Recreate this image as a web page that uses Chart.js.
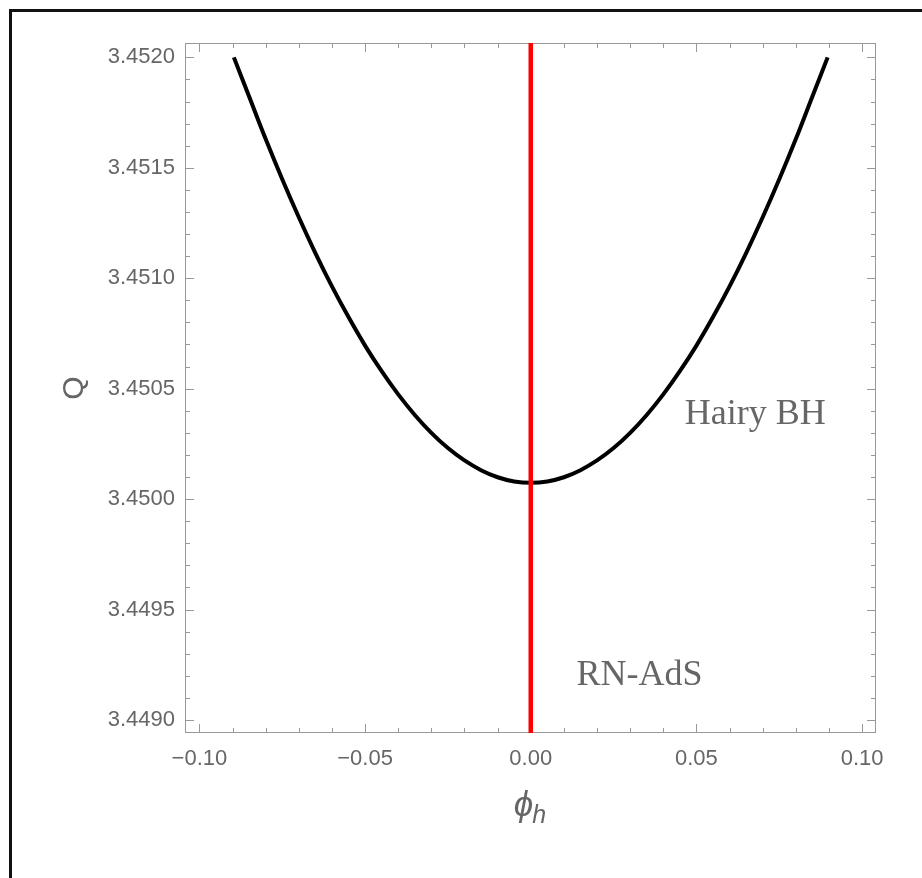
<!DOCTYPE html>
<html>
<head>
<meta charset="utf-8">
<script src="https://cdn.jsdelivr.net/npm/chart.js@4.4.4/dist/chart.umd.min.js"></script>
<style>
  html, body { margin: 0; padding: 0; background: #fff; overflow: hidden; }
  #wrap { position: relative; width: 922px; height: 878px; }
  #frame { position: absolute; left: 9px; top: 9px; width: 1000px; height: 1000px; border: 3px solid #111; pointer-events: none; }
</style>
</head>
<body>
<div id="wrap">
  <canvas id="chart" width="922" height="878"></canvas>
  <div id="frame"></div>
</div>
<script>
// hairy black hole branch
const phiH = [-0.0896, -0.085, -0.080, -0.075, -0.070, -0.065, -0.060, -0.055, -0.050, -0.045,
              -0.040, -0.035, -0.030, -0.025, -0.020, -0.015, -0.010, -0.005, 0.000,
              0.005, 0.010, 0.015, 0.020, 0.025, 0.030, 0.035, 0.040, 0.045,
              0.050, 0.055, 0.060, 0.065, 0.070, 0.075, 0.080, 0.085, 0.0896];
const hairyQ = [3.452000, 3.451823, 3.451630, 3.451448, 3.451276, 3.451114, 3.450963, 3.450824, 3.450695, 3.450579,
                3.450474, 3.450381, 3.450300, 3.450231, 3.450175, 3.450131, 3.450099, 3.450080, 3.450074,
                3.450080, 3.450099, 3.450131, 3.450175, 3.450231, 3.450300, 3.450381, 3.450474, 3.450579,
                3.450695, 3.450824, 3.450963, 3.451114, 3.451276, 3.451448, 3.451630, 3.451823, 3.452000];

// RN-AdS branch sits at phi_h = 0
const rnPhi = [0, 0];
const rnQ = [3.4485, 3.4525];

const xMajorTicks = [-0.10, -0.05, 0.00, 0.05, 0.10];
const xMinorTicks = [-0.10, -0.09, -0.08, -0.07, -0.06, -0.05, -0.04, -0.03, -0.02, -0.01, 0.00,
                     0.01, 0.02, 0.03, 0.04, 0.05, 0.06, 0.07, 0.08, 0.09, 0.10];
const yMajorTicks = [3.4490, 3.4495, 3.4500, 3.4505, 3.4510, 3.4515, 3.4520];
const yMinorTicks = [3.4490, 3.4491, 3.4492, 3.4493, 3.4494, 3.4495, 3.4496, 3.4497, 3.4498, 3.4499,
                     3.4500, 3.4501, 3.4502, 3.4503, 3.4504, 3.4505, 3.4506, 3.4507, 3.4508, 3.4509,
                     3.4510, 3.4511, 3.4512, 3.4513, 3.4514, 3.4515, 3.4516, 3.4517, 3.4518, 3.4519, 3.4520];

const branchLabels = ['Hairy BH', 'RN-AdS'];
const branchLabelPhi = [0.0465, 0.0138];
const branchLabelQ = [3.45034, 3.44916];

const GRAY_TEXT = '#666666';
const GRAY_FRAME = '#999999';

function fmtX(v) {
  const s = Math.abs(v).toFixed(2);
  return v < -1e-9 ? '\u2212' + s : s;
}

const framePlugin = {
  id: 'mmaFrame',
  beforeDatasetsDraw(chart) {
    const { ctx, chartArea: a, scales } = chart;
    const xs = scales.x, ys = scales.y;
    ctx.save();
    ctx.strokeStyle = GRAY_FRAME;
    ctx.lineWidth = 1;
    ctx.strokeRect(a.left + 0.5, a.top + 0.5, a.right - a.left - 1, a.bottom - a.top - 1);
    ctx.beginPath();
    xMinorTicks.forEach(v => {
      const len = xMajorTicks.some(m => Math.abs(m - v) < 1e-9) ? 9 : 5;
      const px = Math.round(xs.getPixelForValue(v)) + 0.5;
      ctx.moveTo(px, a.bottom); ctx.lineTo(px, a.bottom - len);
      ctx.moveTo(px, a.top); ctx.lineTo(px, a.top + len);
    });
    yMinorTicks.forEach(v => {
      const len = yMajorTicks.some(m => Math.abs(m - v) < 1e-9) ? 9 : 5;
      const py = Math.round(ys.getPixelForValue(v)) + 0.5;
      ctx.moveTo(a.left, py); ctx.lineTo(a.left + len, py);
      ctx.moveTo(a.right, py); ctx.lineTo(a.right - len, py);
    });
    ctx.stroke();
    ctx.restore();
  },
  afterDatasetsDraw(chart) {
    const { ctx, scales } = chart;
    ctx.save();
    ctx.fillStyle = GRAY_TEXT;
    ctx.font = '36px "Liberation Serif", "Times New Roman", serif';
    ctx.textAlign = 'left';
    ctx.textBaseline = 'alphabetic';
    branchLabels.forEach((t, i) => {
      ctx.fillText(t, scales.x.getPixelForValue(branchLabelPhi[i]), scales.y.getPixelForValue(branchLabelQ[i]));
    });
    ctx.restore();
  },
  afterDraw(chart) {
    // x axis title: phi with subscript h
    const { ctx, chartArea: a } = chart;
    const cx = (a.left + a.right) / 2;
    ctx.save();
    ctx.fillStyle = GRAY_TEXT;
    ctx.textBaseline = 'alphabetic';
    ctx.textAlign = 'left';
    const big = 'italic 35px "Liberation Sans", "DejaVu Sans", sans-serif';
    const small = 'italic 25px "Liberation Sans", "DejaVu Sans", sans-serif';
    ctx.font = big;
    const w1 = ctx.measureText('\u03D5').width;
    ctx.font = small;
    const w2 = ctx.measureText('h').width;
    const x0 = cx - (w1 + w2) / 2;
    ctx.font = big;
    ctx.fillText('\u03D5', x0, 816);
    ctx.font = small;
    ctx.fillText('h', x0 + w1 - 1, 823);
    ctx.restore();
  }
};

new Chart(document.getElementById('chart'), {
  type: 'scatter',
  data: {
    datasets: [
      {
        label: 'RN-AdS',
        data: rnPhi.map((x, i) => ({ x, y: rnQ[i] })),
        showLine: true,
        borderColor: '#ff0000',
        borderWidth: 4.5,
        pointRadius: 0,
      },
      {
        label: 'Hairy BH',
        data: phiH.map((x, i) => ({ x, y: hairyQ[i] })),
        showLine: true,
        borderColor: '#000000',
        borderWidth: 4,
        pointRadius: 0,
        tension: 0.4,
      },
    ],
  },
  options: {
    responsive: false,
    animation: false,
    layout: { padding: { top: 43, right: 46, left: 0, bottom: 0 } },
    plugins: { legend: { display: false }, tooltip: { enabled: false } },
    scales: {
      x: {
        type: 'linear',
        min: -0.10435,
        max: 0.10420,
        grid: { display: false, drawTicks: false },
        border: { display: false },
        afterBuildTicks: s => { s.ticks = xMajorTicks.map(v => ({ value: v })); },
        afterFit: s => { s.height = 145; },
        ticks: {
          autoSkip: false,
          maxRotation: 0,
          padding: 13,
          color: GRAY_TEXT,
          font: { family: '"Liberation Sans", Arial, sans-serif', size: 22 },
          callback: v => fmtX(v),
        },
      },
      y: {
        type: 'linear',
        min: 3.448941,
        max: 3.452065,
        grid: { display: false, drawTicks: false },
        border: { display: false },
        afterBuildTicks: s => { s.ticks = yMajorTicks.map(v => ({ value: v })); },
        afterFit: s => { s.width = 185; },
        title: {
          display: true,
          text: 'Q',
          color: GRAY_TEXT,
          font: { family: '"Liberation Sans", Arial, sans-serif', size: 30 },
          padding: { top: 57, bottom: 0 },
        },
        ticks: {
          autoSkip: false,
          padding: 10,
          color: GRAY_TEXT,
          font: { family: '"Liberation Sans", Arial, sans-serif', size: 22 },
          callback: v => Number(v).toFixed(4),
        },
      },
    },
  },
  plugins: [framePlugin],
});
</script>
</body>
</html>
